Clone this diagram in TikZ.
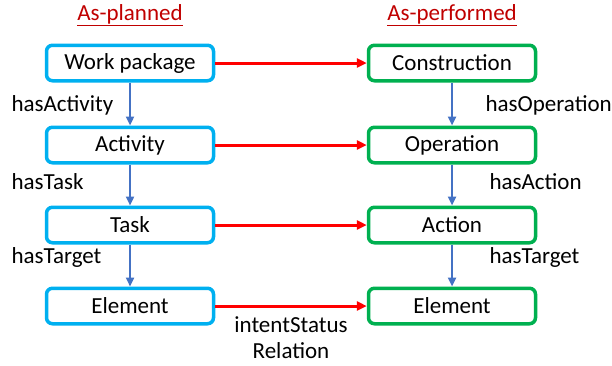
\documentclass[tikz,border=0pt]{standalone}
\usepackage{fontspec}
\setmainfont{Carlito}
\usetikzlibrary{arrows.meta}
\definecolor{planblue}{HTML}{00B0F0}
\definecolor{perfgreen}{HTML}{00B050}
\definecolor{linkblue}{HTML}{4472C4}
\definecolor{titlered}{HTML}{C00000}
\begin{document}
\begin{tikzpicture}[x=1pt,y=-1pt,font=\fontsize{23}{26}\selectfont,
  box/.style={draw,line width=3.5pt,rounded corners=6pt,minimum width=167pt,minimum height=35.5pt,inner sep=0pt,fill=white},
  haslink/.style={-{Triangle[length=9pt,width=8pt]},linkblue,line width=2.5pt},
  maplink/.style={-{Triangle[length=10pt,width=9pt]},red,line width=3pt}]
\useasboundingbox (0,0) rectangle (612,365);
\node[titlered] (plan) at (130,15) {\underline{As-planned}};
\node[titlered] (perf) at (452,15) {\underline{As-performed}};
\foreach \n/\txt/\y in {wp/Work package/63,act/Activity/145,task/Task/225,elp/Element/306}
	\node[box,draw=planblue] (\n) at (130,\y) {\txt};
\foreach \n/\txt/\y in {con/Construction/63,op/Operation/145,ac/Action/225,elf/Element/306}
	\node[box,draw=perfgreen] (\n) at (452,\y) {\txt};
\draw[haslink] (wp) -- (act);
\draw[haslink] (act) -- (task);
\draw[haslink] (task) -- (elp);
\draw[haslink] (con) -- (op);
\draw[haslink] (op) -- (ac);
\draw[haslink] (ac) -- (elf);
\draw[maplink] (wp) -- (con);
\draw[maplink] (act) -- (op);
\draw[maplink] (task) -- (ac);
\draw[maplink] (elp) -- (elf);
\node[anchor=west] (hasact) at (8,105) {hasActivity};
\node[anchor=west] (hastask) at (8,182) {hasTask};
\node[anchor=west] (hastgp) at (8,257) {hasTarget};
\node[anchor=west] (hasop) at (482,105) {hasOperation};
\node[anchor=west] (hasac) at (486,182) {hasAction};
\node[anchor=west] (hastgf) at (486,257) {hasTarget};
\node[align=center] (intent) at (291,338) {intentStatus\\Relation};
\end{tikzpicture}
\end{document}
